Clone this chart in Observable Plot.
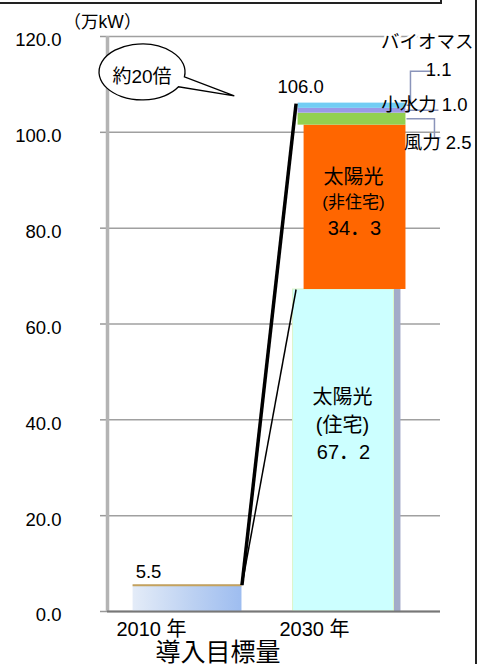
<!DOCTYPE html>
<html><head><meta charset="utf-8">
<script src="https://cdn.jsdelivr.net/npm/d3@7"></script>
<script src="https://cdn.jsdelivr.net/npm/@observablehq/plot@0.6"></script>
<style>
body{margin:0;background:#fff;}
#wrap{position:relative;width:483px;height:664px;overflow:hidden;background:#fff;}
#wrap svg{display:block;}
.frame-top{position:absolute;left:0;top:0;width:440px;height:2px;border-bottom:2px solid #222;border-right:2px solid #222;}
.frame-right{position:absolute;left:475px;top:0;width:2px;height:664px;background:#222;}
</style></head><body><div id="wrap"><div class="frame-top"></div><div class="frame-right"></div></div>
<script>
// ---- data ----
const categories = ["2010 年", "2030 年"];
const totals = [5.5, 106.0];
const sources2030 = ["太陽光(住宅)", "太陽光(非住宅)", "風力", "小水力", "バイオマス"];
const values2030 = [67.2, 34.3, 2.5, 1.0, 1.1];
const yTicks = [0, 20, 40, 60, 80, 100, 120];
const unitLabel = "（万kW）";
const xTitle = "導入目標量";
const ratioLabel = "約20倍";

// ---- derived tables ----
const HW = 0.334;
const ends = d3.cumsum(values2030);
const stack = sources2030.map((s, i) => ({source: s, value: values2030[i], y1: ends[i] - values2030[i], y2: ends[i], i: 1}));
const bar2010 = [{i: 0, v: totals[0]}];
const bar2030 = [{i: 1, v: totals[1]}];
const fmt1 = d3.format(".1f");
const fw = v => String(v).replace(".", "．");

const fills = {"太陽光(住宅)": "#ccffff", "太陽光(非住宅)": "#ff6600", "風力": "#92d050", "小水力": "#9a98e6", "バイオマス": "#72cdf4"};
const seg = s => stack.filter(d => d.source === s);
const mid = d => (d.y1 + d.y2) / 2;
const rectOpts = extra => ({x1: d => d.i - HW, x2: d => d.i + HW, y1: "y1", y2: "y2", ...extra});

function findScales(args) {
  return args.find(a => a && typeof a === "object" && typeof a.x === "function" && typeof a.y === "function");
}

// gradient defs
function defs() {
  const svg = d3.create("svg:defs");
  const g = svg.append("linearGradient").attr("id", "g2010").attr("x1", "0").attr("x2", "1").attr("y1", "0").attr("y2", "0");
  g.append("stop").attr("offset", "0%").attr("stop-color", "#e4ecf8");
  g.append("stop").attr("offset", "55%").attr("stop-color", "#bcd1f2");
  g.append("stop").attr("offset", "100%").attr("stop-color", "#9ebdf0");
  return svg.node();
}

// callout bubble
function callout(...args) {
  const s = findScales(args);
  const cx = s.x(-0.276), cy = s.y(112.5);
  const rx = 43, ry = 28;
  const a1 = 10 * Math.PI / 180, a2 = 32 * Math.PI / 180;
  const p1 = [cx + rx * Math.cos(a1), cy + ry * Math.sin(a1)];
  const p2 = [cx + rx * Math.cos(a2), cy + ry * Math.sin(a2)];
  const tip = [s.x(0.29), s.y(107.5)];
  const g = d3.create("svg:g");
  g.append("path")
    .attr("d", `M${p1}A${rx},${ry} 0 1 0 ${p2}L${tip}Z`)
    .attr("fill", "white").attr("stroke", "black").attr("stroke-width", 1.3);
  g.append("text").attr("x", cx).attr("y", cy + 6).attr("text-anchor", "middle")
    .attr("dominant-baseline", "middle").attr("font-size", 19).attr("fill", "black").text(ratioLabel);
  return g.node();
}

// leader lines for small segments
function leaders(...args) {
  const s = findScales(args);
  const xr = s.x(1 + HW) + 2;
  const ym = d => s.y(mid(d));
  const [w, h, b] = [seg("風力")[0], seg("小水力")[0], seg("バイオマス")[0]];
  const g = d3.create("svg:g").attr("fill", "none").attr("stroke", "#8a94ba").attr("stroke-width", 1.5);
  g.append("path").attr("d", `M${xr},${ym(b)}H${xr + 4}V${ym(b) - 34}H${xr + 26}`);
  g.append("path").attr("d", `M${xr},${ym(h)}H${xr + 32}`);
  g.append("path").attr("d", `M${xr},${ym(w)}H${xr + 28}V${ym(w) + 19}H${xr + 34}`);
  return g.node();
}

const bioOpts = {y: mid, frameAnchor: "right", text: d => d.source, textAnchor: "end", dx: 33, dy: -64, fontSize: 18.5};

const plot = Plot.plot({
  width: 483,
  height: 664,
  marginTop: 36,
  marginBottom: 53,
  marginLeft: 107,
  marginRight: 43,
  style: {fontFamily: "'Liberation Sans', Arial, 'Noto Sans CJK JP', sans-serif", fontSize: "16px", color: "black", background: "white"},
  x: {type: "linear", domain: [-0.491, 1.552], axis: null},
  y: {domain: [0, 120], axis: null},
  marks: [
    defs,
    Plot.gridY(yTicks, {stroke: "#a0a0a0", strokeOpacity: 1, strokeWidth: 1.5}),
    Plot.axisY({ticks: yTicks, tickSize: 7, fill: "none", stroke: "#999", strokeWidth: 1.5, label: null}),
    Plot.axisY({ticks: yTicks, tickSize: 7, tickPadding: 39, stroke: "none", tickFormat: fmt1, fontSize: 18.5, dy: 4, label: null}),
    Plot.ruleX([-0.491], {stroke: "#b4b4b4", strokeWidth: 3.5}),
    // 2010 bar
    Plot.rect(bar2010, {x1: d => d.i - HW, x2: d => d.i + HW, y1: () => 0, y2: "v", fill: "url(#g2010)"}),
    Plot.ruleY(bar2010, {y: "v", x1: d => d.i - HW, x2: d => d.i + HW, stroke: "#c4a25e", strokeWidth: 2}),
    // 2030 stacked bar
    Plot.rect(seg("太陽光(住宅)"), rectOpts({fill: "#a3abc9", insetRight: 6, dx: 2})),
    Plot.rect(seg("太陽光(住宅)"), rectOpts({fill: fills["太陽光(住宅)"], stroke: "#dcf5c8", strokeWidth: 1, insetRight: 8, dx: -3})),
    Plot.rect(seg("太陽光(非住宅)"), rectOpts({fill: fills["太陽光(非住宅)"], insetLeft: 7, dx: 1})),
    Plot.rect(seg("風力"), rectOpts({fill: fills["風力"], insetLeft: 1, dx: 1})),
    Plot.rect(seg("小水力"), rectOpts({fill: fills["小水力"], insetLeft: 1, dx: 1})),
    Plot.rect(seg("バイオマス"), rectOpts({fill: fills["バイオマス"], insetLeft: 1, dx: 1})),
    Plot.ruleY([0], {stroke: "#777", strokeWidth: 2}),
    // growth lines
    Plot.link([{x1: HW, y1: totals[0], x2: 1 - HW, y2: values2030[0]}], {x1: "x1", y1: "y1", x2: "x2", y2: "y2", stroke: "black", strokeWidth: 1.5}),
    Plot.link([{x1: HW, y1: totals[0], x2: 1 - HW, y2: totals[1]}], {x1: "x1", y1: "y1", x2: "x2", y2: "y2", stroke: "black", strokeWidth: 3.5}),
    // x axis labels
    Plot.axisX({ticks: categories.map((_, i) => i), tickFormat: i => categories[i], tickSize: 0, tickPadding: 10, dx: -36, fontSize: 20, label: null}),
    Plot.text([xTitle], {text: d => d, frameAnchor: "bottom", textAnchor: "middle", lineAnchor: "middle", dx: -56, dy: 41, fontSize: 25}),
    Plot.text([unitLabel], {text: d => d, frameAnchor: "top-left", textAnchor: "middle", lineAnchor: "middle", dx: -5, dy: -14, fontSize: 17.5}),
    // totals
    Plot.text(bar2030, {x: "i", y: "v", text: d => fmt1(d.v), dx: -50, dy: -17, fontSize: 18.5}),
    Plot.text(bar2010, {x: "i", y: "v", text: d => fmt1(d.v), dx: -39, dy: -13, fontSize: 18.5}),
    // segment labels
    Plot.text(seg("太陽光(非住宅)"), {x: "i", y: mid, text: () => "太陽光", dx: 3, dy: -30, fontSize: 20}),
    Plot.text(seg("太陽光(非住宅)"), {x: "i", y: mid, text: () => "(非住宅)", dx: 3, dy: -5, fontSize: 17}),
    Plot.text(seg("太陽光(非住宅)"), {x: "i", y: mid, text: d => fw(d.value), dx: 4, dy: 21, fontSize: 20}),
    Plot.text(seg("太陽光(住宅)"), {x: "i", y: mid, text: () => "太陽光", dx: -8, dy: -53, fontSize: 20}),
    Plot.text(seg("太陽光(住宅)"), {x: "i", y: mid, text: () => "(住宅)", dx: -8, dy: -25, fontSize: 20}),
    Plot.text(seg("太陽光(住宅)"), {x: "i", y: mid, text: d => fw(d.value), dx: -7, dy: 2, fontSize: 20}),
    // leader lines + right labels
    leaders,
    Plot.text(seg("バイオマス"), {...bioOpts, fill: "white", stroke: "white", strokeWidth: 5}),
    Plot.text(seg("バイオマス"), {...bioOpts, fill: "black"}),
    Plot.text(seg("バイオマス"), {y: mid, frameAnchor: "right", text: d => fmt1(d.value), textAnchor: "end", dx: 11, dy: -36, fontSize: 18.5}),
    Plot.text(seg("小水力"), {y: mid, frameAnchor: "right", text: d => `${d.source} ${fmt1(d.value)}`, textAnchor: "end", dx: 27, dy: -6, fontSize: 18.5}),
    Plot.text(seg("風力"), {y: mid, frameAnchor: "right", text: d => `${d.source} ${fmt1(d.value)}`, textAnchor: "end", dx: 31, dy: 24, fontSize: 18.5}),
    callout
  ]
});
document.getElementById("wrap").prepend(plot);
</script>
</body></html>
